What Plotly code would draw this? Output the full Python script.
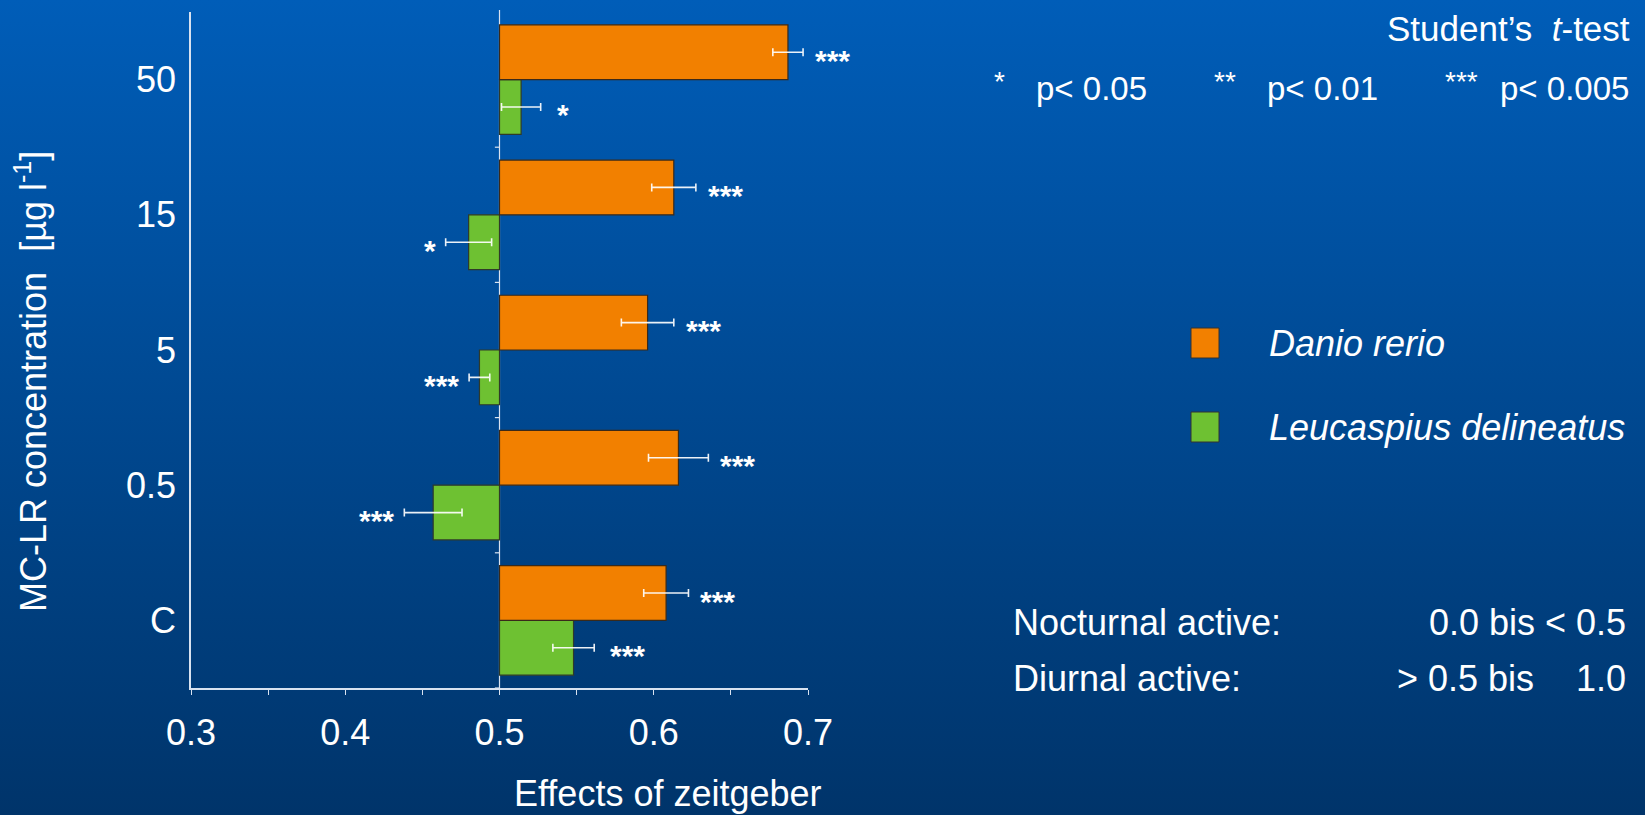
import base64
import plotly.graph_objects as go

# ---------------- data ----------------
categories = ["C", "0.5", "5", "15", "50"]
danio = [0.608, 0.616, 0.596, 0.613, 0.687]
danio_err = [0.0145, 0.0194, 0.0170, 0.0143, 0.0098]
leuc = [0.548, 0.457, 0.487, 0.480, 0.514]
leuc_err = [0.0134, 0.0187, 0.0067, 0.0149, 0.0127]
danio_sig = ["***", "***", "***", "***", "***"]
leuc_sig = ["***", "***", "***", "*", "*"]
x_tick_vals = [0.3, 0.4, 0.5, 0.6, 0.7]
x_tick_text = ["0.3", "0.4", "0.5", "0.6", "0.7"]
BASE = 0.5

# ---------------- layout geometry (pixels) ----------------
W, H = 1645, 815
PL, PR, PT, PB = 191, 808, 12, 688
FONT = "Liberation Sans, Arial, Helvetica, sans-serif"
ORANGE = "#F28000"
GREEN = "#6EC132"
AXIS_COL = "#D8E2F0"
BARGAP = 0.19


def xp(px):
    return (px - PL) / (PR - PL)


def yp(py):
    return (PB - py) / (PB - PT)


fig = go.Figure()

fig.add_trace(go.Bar(
    name="Leucaspius delineatus", y=categories, x=[v - BASE for v in leuc], base=BASE,
    orientation="h", marker=dict(color=GREEN, line=dict(color="#2f3a2a", width=1.2)),
    error_x=dict(type="data", array=leuc_err, visible=True, color="rgba(255,255,255,0.92)",
                 thickness=1.6, width=4),
))
fig.add_trace(go.Bar(
    name="Danio rerio", y=categories, x=[v - BASE for v in danio], base=BASE,
    orientation="h", marker=dict(color=ORANGE, line=dict(color="#3a2a1a", width=1.2)),
    error_x=dict(type="data", array=danio_err, visible=True, color="rgba(255,255,255,0.92)",
                 thickness=1.6, width=4),
))

# background gradient
svg = (f'<svg xmlns="http://www.w3.org/2000/svg" width="{W}" height="{H}" '
       f'viewBox="0 0 {W} {H}" preserveAspectRatio="none">'
       '<defs><linearGradient id="g" x1="0" y1="0" x2="0" y2="1">'
       '<stop offset="0" stop-color="#005DB8"/>'
       '<stop offset="1" stop-color="#00346A"/>'
       '</linearGradient></defs>'
       f'<rect x="0" y="0" width="{W}" height="{H}" fill="url(#g)"/></svg>')
src = "data:image/svg+xml;base64," + base64.b64encode(svg.encode()).decode()

shapes = []
# vertical line at the base value 0.5 with small ticks at category boundaries
shapes.append(dict(type="line", xref="x", yref="paper", x0=BASE, x1=BASE, y0=0, y1=yp(10),
                   line=dict(color=AXIS_COL, width=1.2), layer="below"))
for k in range(len(categories)):
    yb = k - 0.5
    shapes.append(dict(type="line", xref="x", yref="y", x0=BASE - 0.003, x1=BASE, y0=yb, y1=yb,
                       line=dict(color=AXIS_COL, width=1.2)))

annotations = []
off = (1 - BARGAP) / 4
STAR_FONT = dict(family=FONT, size=30, color="white")
for i, c in enumerate(categories):
    v, e = danio[i], danio_err[i]
    annotations.append(dict(x=v + e, y=i + off, xref="x", yref="y", text=f"<b>{danio_sig[i]}</b>",
                            showarrow=False, xanchor="left", yanchor="middle", xshift=10, yshift=-8,
                            font=STAR_FONT))
    v, e = leuc[i], leuc_err[i]
    if v >= BASE:
        annotations.append(dict(x=v + e, y=i - off, xref="x", yref="y", text=f"<b>{leuc_sig[i]}</b>",
                                showarrow=False, xanchor="left", yanchor="middle", xshift=14, yshift=-8,
                                font=STAR_FONT))
    else:
        annotations.append(dict(x=v - e, y=i - off, xref="x", yref="y", text=f"<b>{leuc_sig[i]}</b>",
                                showarrow=False, xanchor="right", yanchor="middle", xshift=-8, yshift=-8,
                                font=STAR_FONT))


def txt(text, x, y, xanchor="left", size=36, **kw):
    annotations.append(dict(text=text, x=xp(x), y=yp(y), xref="paper", yref="paper",
                            showarrow=False, xanchor=xanchor, yanchor="middle",
                            font=dict(family=FONT, size=size, color="white"), **kw))


# axis titles
txt("Effects of zeitgeber", 668, 793, xanchor="center", size=36)
txt("MC-LR concentration\u00a0\u00a0[µg l<sup>-1</sup>]", 31, 382, xanchor="center", size=36, textangle=-90)

# test legend
txt("Student\u2019s\u00a0\u00a0<i>t</i>-test", 1632, 28, xanchor="right", size=35)
txt("*", 999, 82, xanchor="center", size=28)
txt("p< 0.05", 1034, 88, size=33)
txt("**", 1225, 82, xanchor="center", size=28)
txt("p< 0.01", 1265, 88, size=33)
txt("***", 1461, 82, xanchor="center", size=28)
txt("p< 0.005", 1631, 88, xanchor="right", size=33)

# species legend
for name, col, yc in [("Danio rerio", ORANGE, 343), ("Leucaspius delineatus", GREEN, 427)]:
    shapes.append(dict(type="rect", xref="paper", yref="paper", x0=xp(1191), x1=xp(1219),
                       y0=yp(yc - 15), y1=yp(yc + 15), fillcolor=col,
                       line=dict(color="#333333", width=1)))
    txt(f"<i>{name}</i>", 1267, yc, size=36)

# activity notes
txt("Nocturnal active:", 1011, 622, size=36)
txt("0.0 bis < 0.5", 1628, 622, xanchor="right", size=36)
txt("Diurnal active:", 1011, 678, size=36)
txt("> 0.5 bis", 1395, 678, size=36)
txt("1.0", 1628, 678, xanchor="right", size=36)

fig.update_layout(
    width=W, height=H,
    margin=dict(l=PL, r=W - PR, t=PT, b=H - PB, pad=0),
    barmode="group", bargap=BARGAP, bargroupgap=0,
    showlegend=False,
    paper_bgcolor="#00468F", plot_bgcolor="rgba(0,0,0,0)",
    font=dict(family=FONT, size=36, color="white"),
    images=[dict(source=src, xref="paper", yref="paper", x=xp(0), y=yp(0),
                 sizex=W / (PR - PL), sizey=H / (PB - PT), sizing="stretch",
                 xanchor="left", yanchor="top", layer="below")],
    shapes=shapes, annotations=annotations,
    xaxis=dict(range=[0.3, 0.7], tickvals=x_tick_vals, ticktext=x_tick_text,
               showgrid=False, zeroline=False, showline=True, linecolor=AXIS_COL, linewidth=1.5,
               ticks="outside", ticklen=5, tickwidth=1.2, tickcolor=AXIS_COL,
               minor=dict(dtick=0.05, tick0=0.3, ticks="outside", ticklen=5, tickwidth=1.2,
                          tickcolor=AXIS_COL, showgrid=False),
               tickfont=dict(family=FONT, size=36, color="white"), ticklabelstandoff=7),
    yaxis=dict(categoryorder="array", categoryarray=categories, range=[-0.5, 4.5],
               showgrid=False, zeroline=False, showline=True, linecolor=AXIS_COL, linewidth=1.5,
               ticks="", tickfont=dict(family=FONT, size=36, color="white"), ticklabelstandoff=6),
)

fig.write_html("out.html", config={"displayModeBar": False},
               post_script="document.body.style.margin='0';document.body.style.overflow='hidden';")
